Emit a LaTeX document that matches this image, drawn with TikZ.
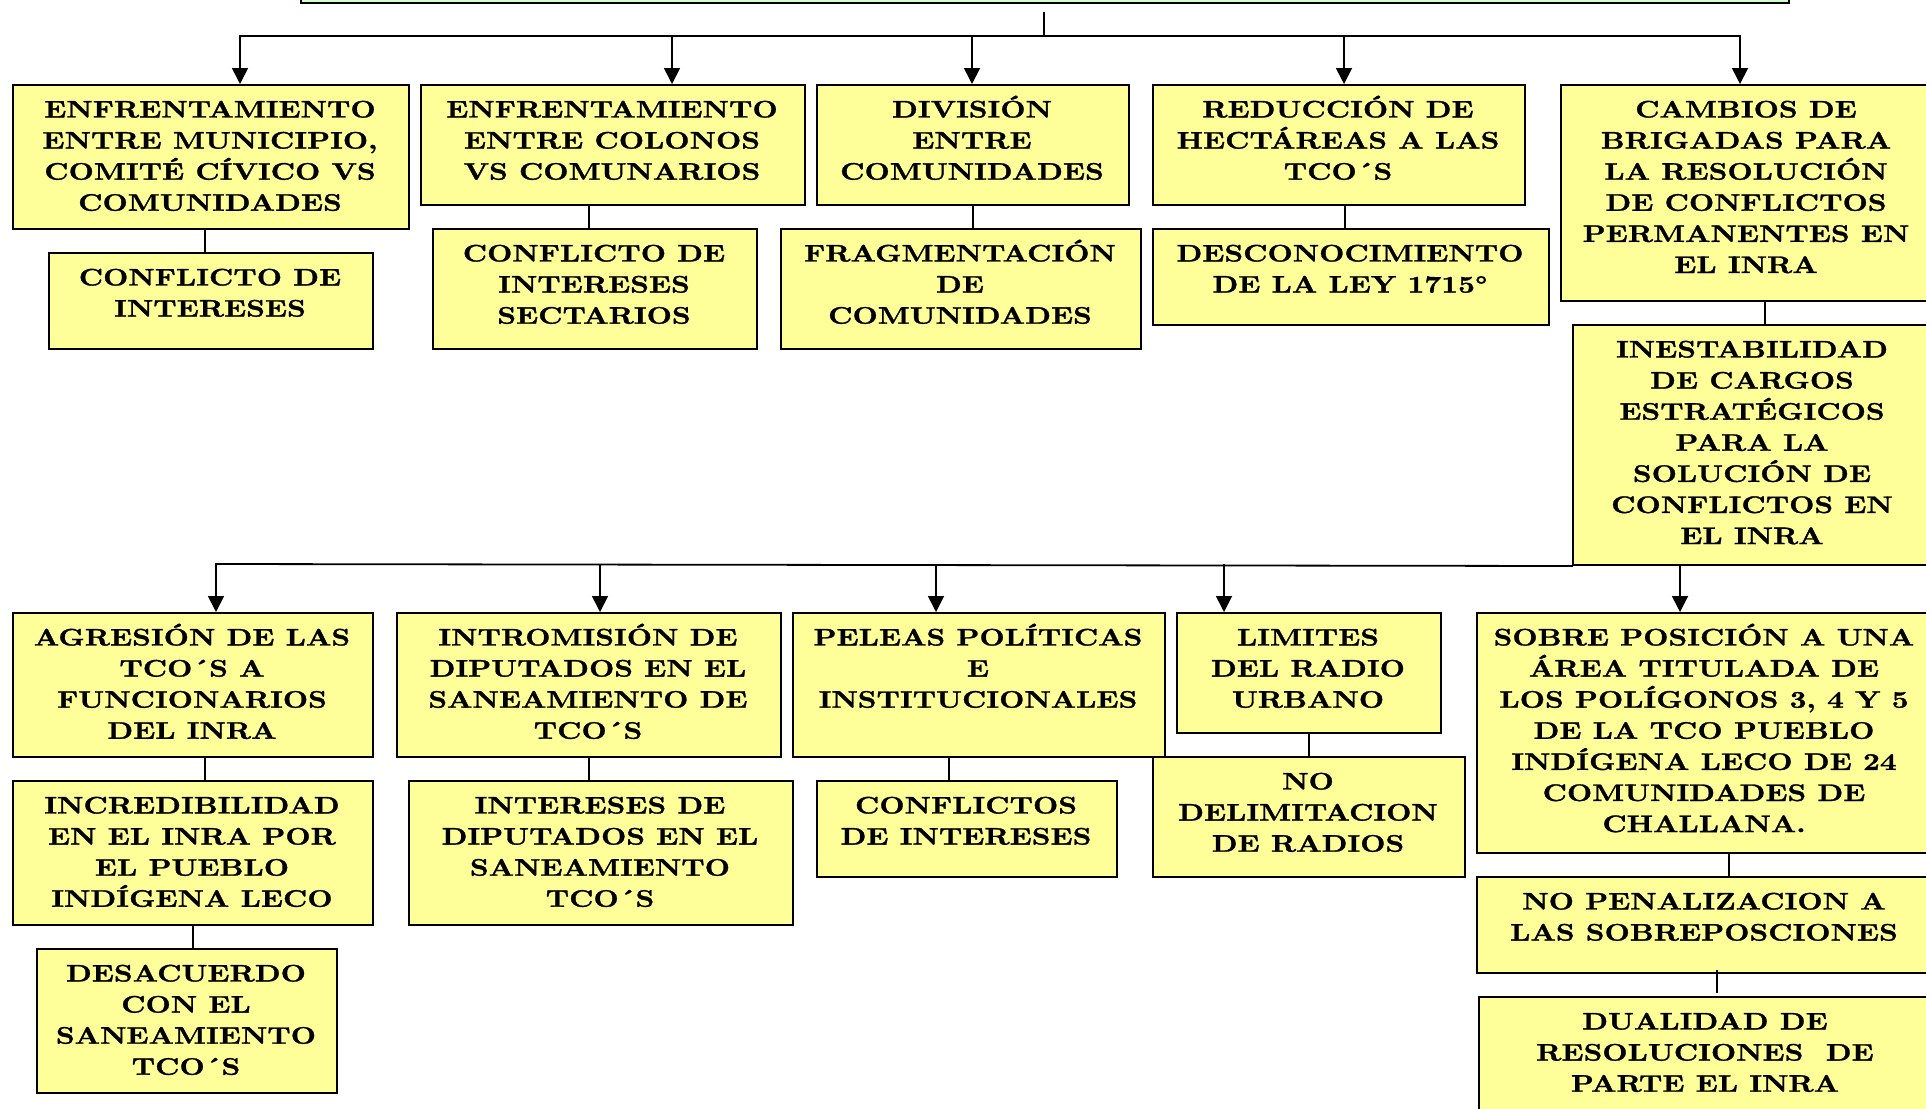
\documentclass[tikz,border=0pt]{standalone}
\usepackage{fontspec}
\newfontfamily\boxfont{lmroman10-bold.otf}[FakeStretch=1.22,FakeBold=1.2]
\usetikzlibrary{arrows.meta}
\definecolor{boxyellow}{HTML}{FFFF99}
\definecolor{titlegreen}{HTML}{CCFFCC}
\tikzset{
  boxst/.style={draw=black, fill=boxyellow, line width=2pt, inner sep=0pt, rectangle},
  txtst/.style={inner sep=0pt, outer sep=0pt, anchor=north, font=\boxfont\fontsize{24}{31.1}\selectfont},
  link/.style={draw=black, line width=1.8pt},
  arr/.style={link, -{Triangle[width=16pt,length=16pt]}},
}
\newcommand\cbox[6]{%
  \node[boxst, anchor=north west, minimum width={#4-#2}, minimum height={#5-#3}] (#1) at (#2,#3) {};
  \node[txtst] (#1t) at ({(#2+#4)/2},{#3+10}) {\parbox[t]{600pt}{\centering\rule{0pt}{23.5pt}#6}};
}
\begin{document}
\begin{tikzpicture}[x=1pt,y=-1pt]
\useasboundingbox (0,0) rectangle (1926,1108);
\fill[white] (0,0) rectangle (1926,1108);
\clip (0,0) rectangle (1926,1108);

% title box (cut off at top)
\node[draw=black, fill=titlegreen, line width=2pt, anchor=south west, minimum width=1488, minimum height=60] (title) at (300,4) {};

% first row
\cbox{B1}{12}{84}{408}{228}{ENFRENTAMIENTO\\ENTRE MUNICIPIO,\\COMITÉ CÍVICO VS\\COMUNIDADES}
\cbox{C1}{48}{252}{372}{348}{CONFLICTO DE\\INTERESES}
\cbox{B2}{420}{84}{804}{204}{ENFRENTAMIENTO\\ENTRE COLONOS\\VS COMUNARIOS}
\cbox{C2}{432}{228}{756}{348}{CONFLICTO DE\\INTERESES\\SECTARIOS}
\cbox{B3}{816}{84}{1128}{204}{DIVISIÓN\\ENTRE\\COMUNIDADES}
\cbox{C3}{780}{228}{1140}{348}{FRAGMENTACIÓN\\DE\\COMUNIDADES}
\cbox{B4}{1152}{84}{1524}{204}{REDUCCIÓN DE\\HECTÁREAS A LAS\\TCO´S}
\cbox{C4}{1152}{228}{1548}{324}{DESCONOCIMIENTO\\DE LA LEY 1715°}
\cbox{B5}{1560}{84}{1932}{300}{CAMBIOS DE\\BRIGADAS PARA\\LA RESOLUCIÓN\\DE CONFLICTOS\\PERMANENTES EN\\EL INRA}
\cbox{C5}{1572}{324}{1932}{564}{INESTABILIDAD\\DE CARGOS\\ESTRATÉGICOS\\PARA LA\\SOLUCIÓN DE\\CONFLICTOS EN\\EL INRA}

% second row
\cbox{D1}{12}{612}{372}{756}{AGRESIÓN DE LAS\\TCO´S A\\FUNCIONARIOS\\DEL INRA}
\cbox{E1}{12}{780}{372}{924}{INCREDIBILIDAD\\EN EL INRA POR\\EL PUEBLO\\INDÍGENA LECO}
\cbox{F1}{36}{948}{336}{1092}{DESACUERDO\\CON EL\\SANEAMIENTO\\TCO´S}
\cbox{D2}{396}{612}{780}{756}{INTROMISIÓN DE\\DIPUTADOS EN EL\\SANEAMIENTO DE\\TCO´S}
\cbox{E2}{408}{780}{792}{924}{INTERESES DE\\DIPUTADOS EN EL\\SANEAMIENTO\\TCO´S}
\cbox{D3}{792}{612}{1164}{756}{PELEAS POLÍTICAS\\E\\INSTITUCIONALES}
\cbox{E3}{816}{780}{1116}{876}{CONFLICTOS\\DE INTERESES}
\cbox{D4}{1176}{612}{1440}{732}{LIMITES\\DEL RADIO\\URBANO}
\cbox{E4}{1152}{756}{1464}{876}{NO\\DELIMITACION\\DE RADIOS}
\cbox{D5}{1476}{612}{1932}{852}{SOBRE POSICIÓN A UNA\\ÁREA TITULADA DE\\LOS POLÍGONOS 3, 4 Y 5\\DE LA TCO PUEBLO\\INDÍGENA LECO DE 24\\COMUNIDADES DE\\CHALLANA.}
\cbox{E5}{1476}{876}{1932}{972}{NO PENALIZACION A\\LAS SOBREPOSCIONES}
\cbox{F5}{1478}{996}{1932}{1160}{DUALIDAD DE\\RESOLUCIONES\ \ DE\\PARTE EL INRA}

% trunk and first bus
\coordinate (t0) at (1044,12);
\coordinate (h0) at (1044,36);
\draw[link] (t0) -- (h0);
\coordinate (a1) at (240,36);
\coordinate (a2) at (672,36);
\coordinate (a3) at (972,36);
\coordinate (a4) at (1344,36);
\coordinate (a5) at (1740,36);
\draw[link, line cap=rect] (a1) -- (a5);
\foreach \i/\n in {1/B1,2/B2,3/B3,4/B4,5/B5}
  \draw[arr] (a\i) -- (a\i |- \n.north);

% first-row children
\draw[link] ([xshift=-6pt]B1.south) -- ([xshift=-6pt]C1.north);
\draw[link] ([xshift=-24pt]B2.south) -- ([xshift=-6pt]C2.north);
\draw[link] (B3.south) -- ([xshift=12pt]C3.north);
\draw[link] ([xshift=6pt]B4.south) -- ([xshift=-6pt]C4.north);
\draw[link] ([xshift=18pt]B5.south) -- ([xshift=12pt]C5.north);

% second bus
\coordinate (c1) at (216,564);
\coordinate (c2) at (600,564);
\coordinate (c3) at (936,564);
\coordinate (c4) at (1224,564);
\coordinate (c5) at (1680,564);
\draw[link, line cap=rect] (c1) -- (C5.south west);
\foreach \i/\n in {1/D1,2/D2,3/D3,4/D4,5/D5}
  \draw[arr] (c\i) -- (c\i |- \n.north);

% second-row children
\draw[link] ([xshift=12pt]D1.south) -- ([xshift=12pt]E1.north);
\draw[link] (E1.south) -- ([xshift=6pt]F1.north);
\draw[link] (D2.south) -- ([xshift=-12pt]E2.north);
\draw[link] ([xshift=-30pt]D3.south) -- ([xshift=-18pt]E3.north);
\draw[link] (D4.south) -- (E4.north);
\draw[link] ([xshift=24pt]D5.south) -- ([xshift=24pt]E5.north);
\draw[link] ([xshift=12pt,yshift=4pt]E5.south) -- ([xshift=11pt,yshift=3pt]F5.north);
\end{tikzpicture}
\end{document}
